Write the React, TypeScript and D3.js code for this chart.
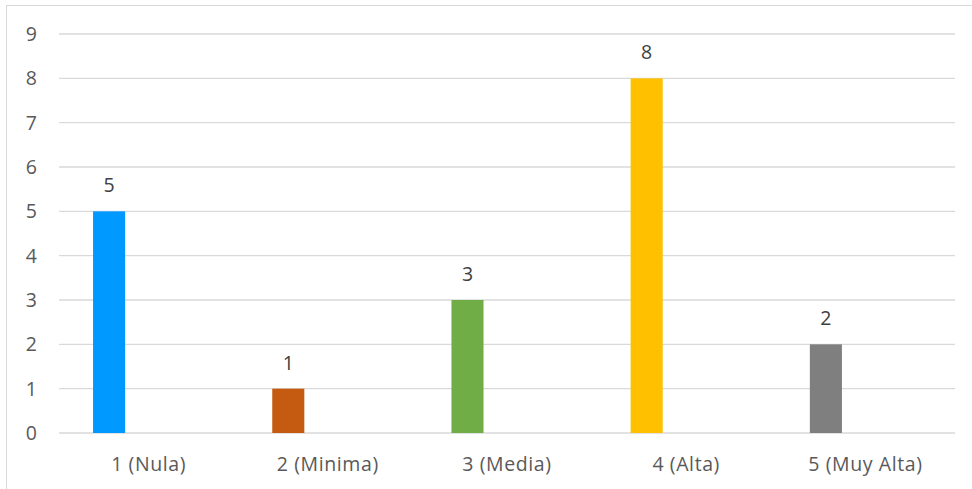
import React from "react";
import * as d3 from "d3";

const categories = ["1 (Nula)", "2 (Minima)", "3 (Media)", "4 (Alta)", "5 (Muy Alta)"];
const values = [5, 1, 3, 8, 2];
const colors = ["#0099FF", "#C55A11", "#70AD47", "#FFC000", "#7F7F7F"];
const yTicks = [0, 1, 2, 3, 4, 5, 6, 7, 8, 9];

const W = 972;
const H = 489;
const left = 59;
const right = 955;
const top = 34;
const bottom = 433;
const font = "'Open Sans', 'Liberation Sans', sans-serif";

export default function App() {
  const x = d3.scaleBand<string>().domain(categories).range([left, right]).padding(0);
  const y = d3.scaleLinear().domain([0, 9]).range([bottom, top]);
  const bw = x.bandwidth();
  const barW = bw * 0.179;
  const barOff = bw * 0.19;

  return (
    <svg width={W} height={H} style={{ position: "absolute", left: 0, top: 0 }}>
      <rect x={0} y={0} width={W} height={H} fill="#fff" />
      <rect x={6.5} y={5.5} width={W + 20} height={H + 20} fill="none" stroke="#d9d9d9" strokeWidth={1} />
      {yTicks.map((t) => (
        <g key={t}>
          <line x1={left} x2={right} y1={y(t)} y2={y(t)} stroke="#d9d9d9" strokeWidth={1.3} />
          <text x={37} y={y(t)} dy="0.36em" textAnchor="end" fontFamily={font} fontSize={19.5} fill="#595959">
            {t}
          </text>
        </g>
      ))}
      {categories.map((c, i) => {
        const bx = (x(c) as number) + barOff;
        return (
          <g key={c}>
            <rect x={bx} y={y(values[i])} width={barW} height={y(0) - y(values[i])} fill={colors[i]} />
            <text x={bx + barW / 2} y={y(values[i]) - 19} textAnchor="middle" fontFamily={font} fontSize={19.5} fill="#404040">
              {values[i]}
            </text>
            <text x={(x(c) as number) + bw / 2} y={471} textAnchor="middle" fontFamily={font} fontSize={19.5} letterSpacing={0.6} fill="#595959">
              {c}
            </text>
          </g>
        );
      })}
    </svg>
  );
}
